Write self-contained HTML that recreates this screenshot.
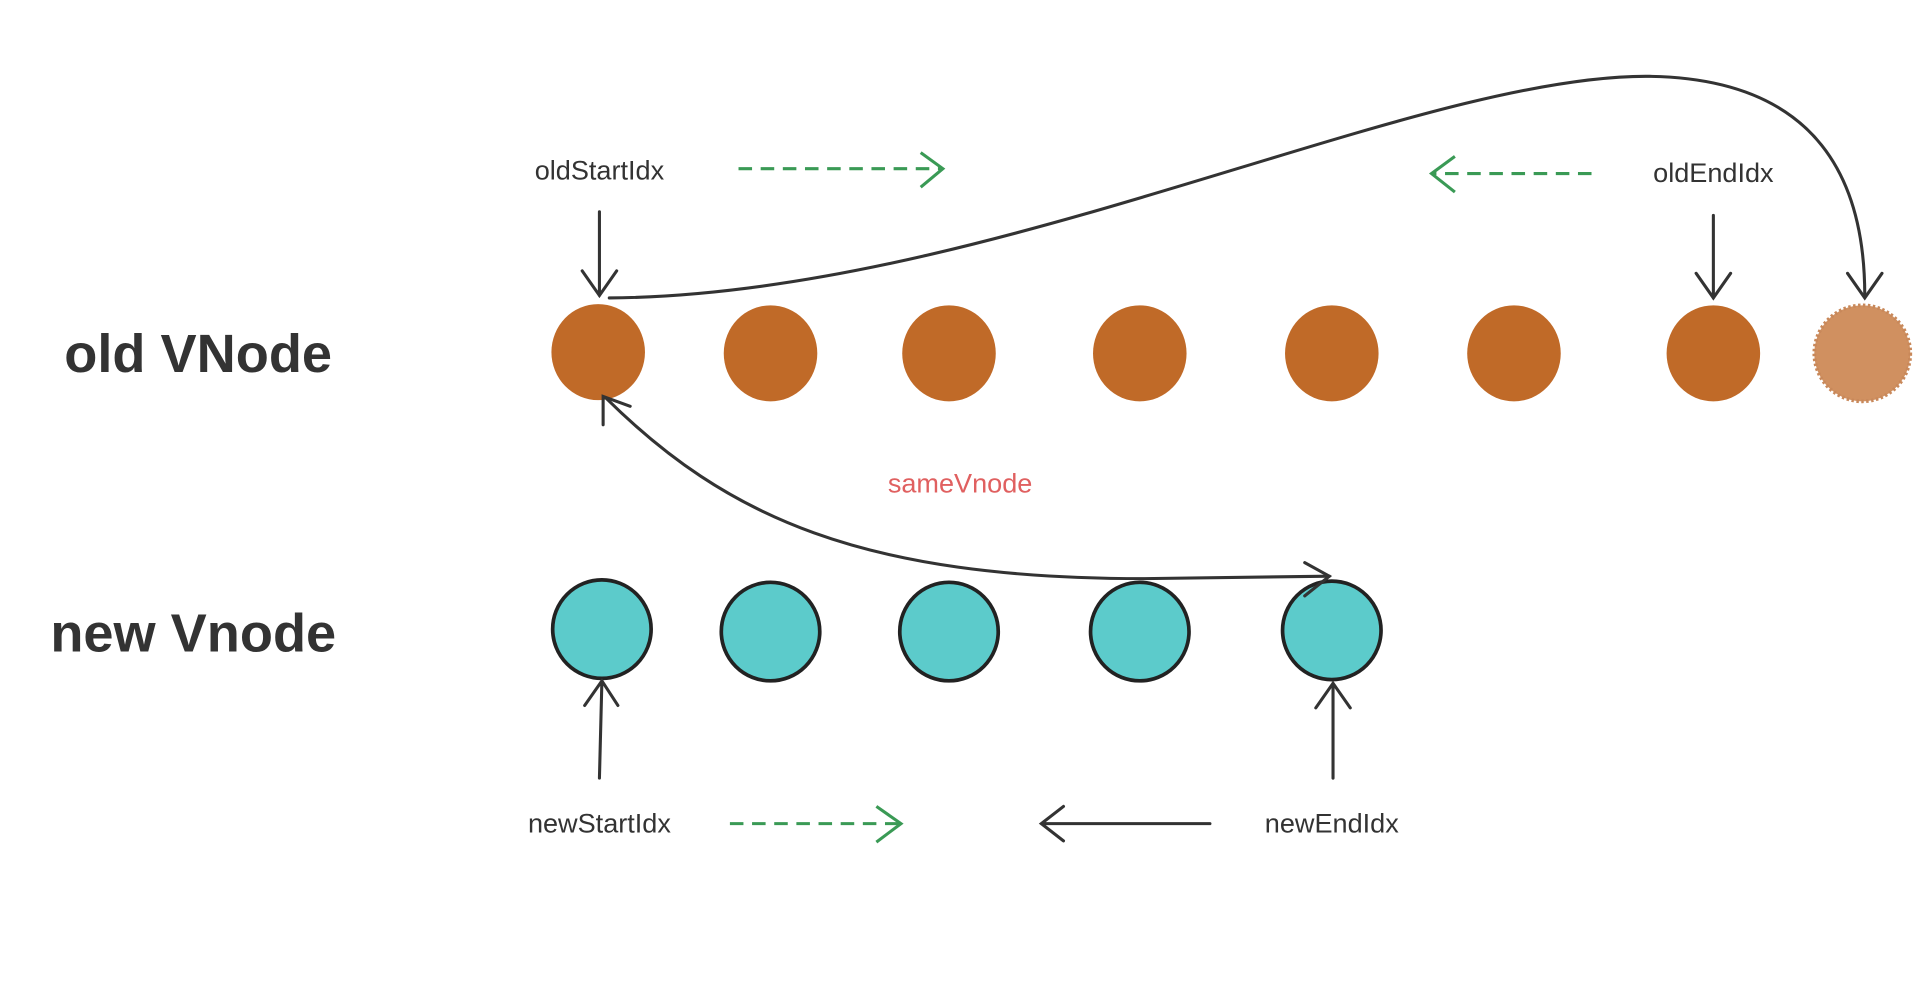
<!DOCTYPE html>
<html><head><meta charset="utf-8"><style>
html,body{margin:0;padding:0;background:#fff;}
svg{display:block}
text{font-family:"Liberation Sans",sans-serif;}
</style></head><body>
<svg width="1930" height="996" viewBox="0 0 1568 809" preserveAspectRatio="none" xmlns="http://www.w3.org/2000/svg">
<rect width="1568" height="809" fill="#fff"/>
<text x="161" y="302" font-size="44" font-weight="bold" fill="#333" text-anchor="middle">old VNode</text>
<text x="157" y="529" font-size="44" font-weight="bold" fill="#333" text-anchor="middle">new Vnode</text>
<g fill="#c06a28">
<ellipse cx="486" cy="286" rx="38" ry="39"/>
<ellipse cx="626" cy="287" rx="38" ry="39"/>
<ellipse cx="771" cy="287" rx="38" ry="39"/>
<ellipse cx="926" cy="287" rx="38" ry="39"/>
<ellipse cx="1082" cy="287" rx="38" ry="39"/>
<ellipse cx="1230" cy="287" rx="38" ry="39"/>
<ellipse cx="1392" cy="287" rx="38" ry="39"/>
</g>
<ellipse cx="1513" cy="287" rx="39" ry="39" fill="#d09060" stroke="#c8885a" stroke-width="3" stroke-dasharray="2 2"/>
<g fill="#5ccbcb" stroke="#222" stroke-width="3">
<ellipse cx="489" cy="511" rx="40" ry="40"/>
<ellipse cx="626" cy="513" rx="40" ry="40"/>
<ellipse cx="771" cy="513" rx="40" ry="40"/>
<ellipse cx="926" cy="513" rx="40" ry="40"/>
<ellipse cx="1082" cy="512" rx="40" ry="40"/>
</g>
<g font-size="22" fill="#333" text-anchor="middle">
<text x="487" y="146">oldStartIdx</text>
<text x="1392" y="148">oldEndIdx</text>
<text x="487" y="676">newStartIdx</text>
<text x="1082" y="676">newEndIdx</text>
</g>
<text x="780" y="400" font-size="22" fill="#e06060" text-anchor="middle">sameVnode</text>
<g fill="none" stroke="#333" stroke-width="2.5" stroke-linecap="round">
<path d="M487,172 L487,240 M473,220 L487,240 L501,220"/>
<path d="M1392,175 L1392,242 M1378,222 L1392,242 L1406,222"/>
<path d="M495,242 C800,240 1150,60 1340,62 C1480,64 1515,150 1515,240"/>
<path d="M1501,222 L1515,242 L1529,222"/>
<path d="M492,323 C590,420 700,470 930,470 L1080,468"/>
<path d="M490,345 L490,322 L512,330"/>
<path d="M1060,457 L1080,468 L1060,484"/>
<path d="M487,632 L489,553 M475,573 L489,553 L502,573"/>
<path d="M1083,632 L1083,555 M1069,575 L1083,555 L1097,575"/>
<path d="M983,669 L846,669 M864,655 L846,669 L864,683"/>
</g>
<g fill="none" stroke="#3a9a55" stroke-width="2.5">
<path d="M600,137 L764,137" stroke-dasharray="11 7"/>
<path d="M748,124 L766,137 L748,152"/>
<path d="M1293,141 L1164,141" stroke-dasharray="11 7"/>
<path d="M1182,127 L1163,141 L1182,156"/>
<path d="M593,669 L730,669" stroke-dasharray="11 7"/>
<path d="M712,655 L732,669 L712,684"/>
</g>
</svg>
</body></html>
